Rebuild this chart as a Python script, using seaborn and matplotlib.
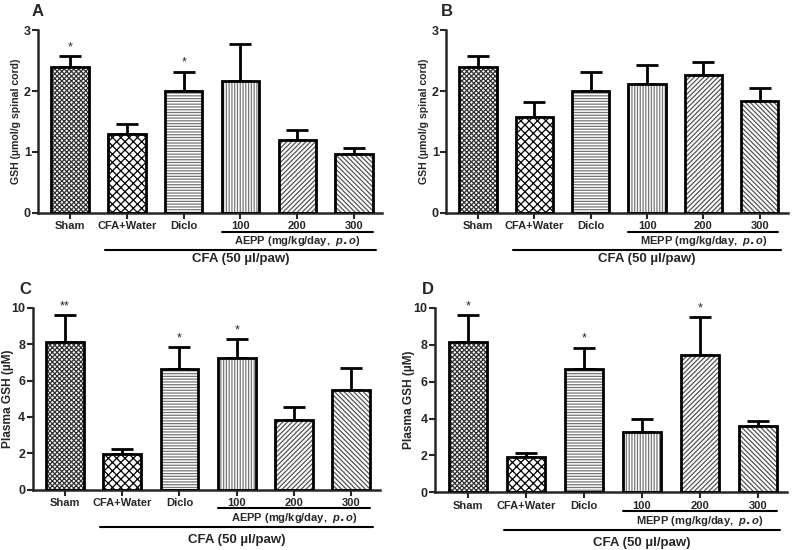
import numpy as np
import pandas as pd
import seaborn as sns
import matplotlib.pyplot as plt
from matplotlib.patches import Rectangle

# group labels shared by all panels
groups = ['Sham', 'CFA+Water', 'Diclo', '100', '200', '300']

# A: spinal cord GSH, AEPP
a_mean = [2.40, 1.30, 2.00, 2.17, 1.20, 0.96]
a_sem = [0.17, 0.16, 0.32, 0.60, 0.16, 0.10]
a_star = ['*', '', '*', '', '', '']

# B: spinal cord GSH, MEPP
b_mean = [2.40, 1.58, 2.00, 2.12, 2.26, 1.84]
b_sem = [0.17, 0.24, 0.32, 0.31, 0.22, 0.21]
b_star = ['', '', '', '', '', '']

# C: plasma GSH, AEPP
c_mean = [8.15, 1.95, 6.65, 7.26, 3.81, 5.49]
c_sem = [1.46, 0.26, 1.20, 1.01, 0.76, 1.21]
c_star = ['**', '', '*', '*', '', '']

# D: plasma GSH, MEPP
d_mean = [8.15, 1.91, 6.67, 3.25, 7.44, 3.58]
d_sem = [1.47, 0.22, 1.18, 0.70, 2.07, 0.29]
d_star = ['*', '', '*', '', '*', '']

hatches = ['xxxxxxx', 'xxxx', '------', '||||||', '///////', '\\\\\\\\\\\\\\']
hatch_cols = ['#333333', '#000000', '#777777', '#777777', '#555555', '#555555']

sns.set_style('ticks')
plt.rcParams['font.family'] = ['Liberation Sans', 'DejaVu Sans']
plt.rcParams['font.weight'] = 'bold'
plt.rcParams['mathtext.fontset'] = 'custom'
plt.rcParams['mathtext.it'] = 'Liberation Sans:italic:bold'
plt.rcParams['hatch.linewidth'] = 0.9


def panel(ax, means, sems, stars, letter, ylabel, ylsize, ylx, ymax, ystep, drug, lvl):
    df = pd.DataFrame({'group': groups, 'value': means})
    sns.barplot(data=df, x='group', y='value', ax=ax, color='white',
                width=0.66, linewidth=0, errorbar=None, zorder=2)
    x = np.arange(len(groups))
    for p, h, hc in zip(ax.patches, hatches, hatch_cols):
        p.set_facecolor('white')
        p.set_edgecolor(hc)
        p.set_hatch(h)
        p.set_linewidth(0)
        ax.add_patch(Rectangle(p.get_xy(), p.get_width(), p.get_height(),
                               fill=False, ec='black', lw=2, zorder=3))
    ax.errorbar(x, means, yerr=[np.zeros(len(means)), sems], fmt='none',
                ecolor='black', elinewidth=2, capsize=8, capthick=2, zorder=1)
    for xi, m, s, st in zip(x, means, sems, stars):
        if st:
            ax.annotate(st, (xi, m + s), xytext=(0, 2), textcoords='offset points',
                        ha='center', va='bottom', fontsize=9, fontweight='normal')
    ax.set_xlim(-0.56, 5.5)
    ax.set_ylim(0, ymax)
    ax.set_yticks(np.arange(0, ymax + 0.01, ystep))
    ax.set_xlabel('')
    ax.set_ylabel(ylabel, fontsize=ylsize, fontweight='bold')
    ax.yaxis.set_label_coords(ylx, 0.5)
    ax.tick_params(axis='x', labelsize=8, width=1.5, length=4, pad=2)
    ax.tick_params(axis='y', labelsize=9, width=1.5, length=4, pad=1.5)
    for lab in ax.get_xticklabels() + ax.get_yticklabels():
        lab.set_fontweight('bold')
    for s in ['left', 'bottom']:
        ax.spines[s].set_linewidth(1.8)
    sns.despine(ax=ax)
    tr = ax.get_xaxis_transform()
    hw = 0.33
    ax.plot([3 - hw, 5 + hw], [lvl[0], lvl[0]], color='black', lw=1.5,
            transform=tr, clip_on=False)
    ax.text(4, lvl[1], drug + ' (mg/kg/day,  $p.o$)', transform=tr,
            ha='center', va='center', fontsize=8, fontweight='bold')
    ax.plot([1 - hw - 0.05, 5 + hw + 0.05], [lvl[2], lvl[2]], color='black', lw=1.5,
            transform=tr, clip_on=False)
    ax.text(3, lvl[3], 'CFA (50 \u00b5l/paw)', transform=tr,
            ha='center', va='center', fontsize=9.5, fontweight='bold')
    ax.text(letter[1], 1.1, letter[0], transform=ax.transAxes, fontsize=12,
            fontweight='bold', ha='left', va='center')


fig = plt.figure(figsize=(8, 5.5), dpi=100)
axA = fig.add_axes([0.048, 0.613, 0.430, 0.332])
axB = fig.add_axes([0.558, 0.613, 0.427, 0.332])
axC = fig.add_axes([0.041, 0.110, 0.434, 0.330])
axD = fig.add_axes([0.544, 0.105, 0.440, 0.335])

top_lvl = [-0.104, -0.153, -0.202, -0.251]
bot_lvl = [-0.10, -0.157, -0.204, -0.278]

panel(axA, a_mean, a_sem, a_star, ('A', -0.02), 'GSH (\u00b5mol/g spinal cord)', 7.6, -0.052,
      3, 1, 'AEPP', top_lvl)
panel(axB, b_mean, b_sem, b_star, ('B', -0.015), 'GSH (\u00b5mol/g spinal cord)', 7.6, -0.052,
      3, 1, 'MEPP', top_lvl)
panel(axC, c_mean, c_sem, c_star, ('C', -0.04), 'Plasma GSH (\u00b5M)', 8.6, -0.054,
      10, 2, 'AEPP', bot_lvl)
panel(axD, d_mean, d_sem, d_star, ('D', -0.037), 'Plasma GSH (\u00b5M)', 8.6, -0.057,
      10, 2, 'MEPP', bot_lvl)

fig.savefig('out.png', dpi=100)
